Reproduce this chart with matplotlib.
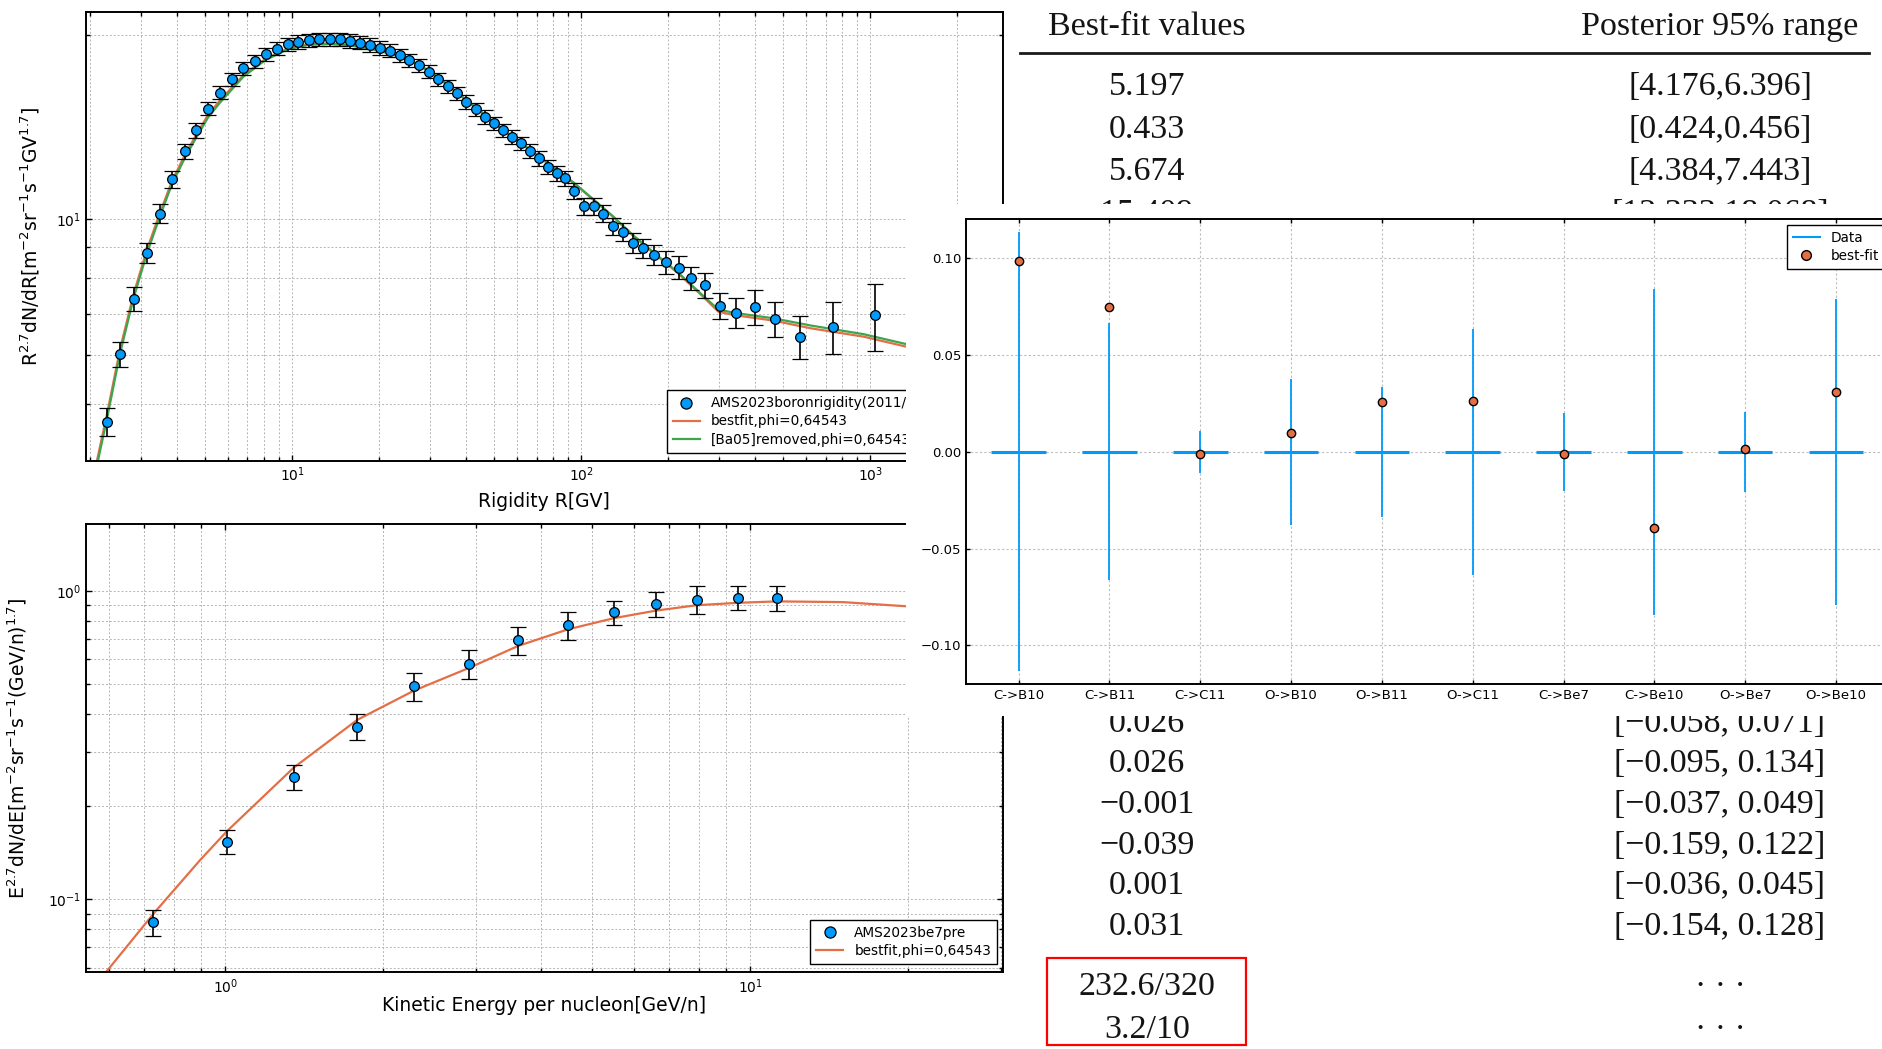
import matplotlib
matplotlib.use("Agg")
import numpy as np
import matplotlib.pyplot as plt
from matplotlib.ticker import LogLocator, NullFormatter
from matplotlib.lines import Line2D
from matplotlib.patches import Rectangle

# ---- top-left panel: AMS boron rigidity spectrum, R^2.7 dN/dR ----
boron_R = [2.29, 2.54, 2.83, 3.14, 3.48, 3.83, 4.25, 4.65, 5.11, 5.63,
           6.18, 6.78, 7.43, 8.11, 8.84, 9.65, 10.47, 11.42, 12.40, 13.46,
           14.61, 15.86, 17.13, 18.60, 20.19, 21.80, 23.54, 25.43, 27.45, 29.65,
           32.03, 34.59, 37.16, 39.94, 43.13, 46.33, 49.77, 53.48, 57.47, 61.75,
           66.35, 71.28, 76.59, 82.28, 87.95, 94.5, 102.1, 110.3, 119.1, 128.6,
           138.9, 150.7, 163.6, 178.5, 196.8, 216.9, 240.4, 267.7, 302.7, 344.1,
           397.4, 468.2, 571.7, 742.8, 1036.6]
boron_flux = [4.67, 6.02, 7.42, 8.81, 10.21, 11.62, 12.91, 13.97, 15.15, 16.08,
              16.90, 17.61, 18.10, 18.59, 18.98, 19.27, 19.46, 19.59, 19.64, 19.64,
              19.64, 19.52, 19.40, 19.23, 19.03, 18.82, 18.51, 18.17, 17.83, 17.39,
              16.92, 16.48, 16.03, 15.54, 15.10, 14.69, 14.33, 13.97, 13.62, 13.29,
              12.93, 12.56, 12.17, 11.87, 11.65, 11.11, 10.50, 10.50, 10.21, 9.74,
              9.54, 9.15, 8.96, 8.74, 8.50, 8.33, 8.00, 7.80, 7.22, 7.04,
              7.19, 6.86, 6.43, 6.67, 6.97]
boron_err = [0.25, 0.28, 0.33, 0.33, 0.36, 0.37, 0.36, 0.39, 0.38, 0.40,
             0.42, 0.44, 0.45, 0.46, 0.47, 0.48, 0.49, 0.49, 0.49, 0.49,
             0.49, 0.49, 0.48, 0.48, 0.48, 0.47, 0.46, 0.45, 0.45, 0.43,
             0.42, 0.41, 0.40, 0.39, 0.38, 0.37, 0.36, 0.35, 0.34, 0.33,
             0.35, 0.34, 0.33, 0.33, 0.33, 0.34, 0.33, 0.33, 0.32, 0.31,
             0.33, 0.33, 0.33, 0.33, 0.36, 0.36, 0.35, 0.36, 0.36, 0.40,
             0.47, 0.45, 0.52, 0.65, 0.87]
boron_fit_R = [2.11, 2.29, 2.54, 2.83, 3.14, 3.48, 3.83, 4.25, 4.65, 5.11,
               5.63, 6.78, 8.11, 9.65, 11.42, 13.46, 15.86, 18.60, 21.80, 25.43,
               29.65, 34.59, 39.94, 46.33, 53.48, 61.75, 71.28, 82.28, 94.5, 110.3,
               128.6, 150.7, 178.5, 216.7, 267.7, 297.9, 339, 461, 627, 946,
               1334, 2875]
boron_bestfit = [4.03, 4.82, 6.15, 7.56, 8.90, 10.21, 11.51, 12.72, 13.71, 14.78,
                 15.63, 17.18, 18.28, 18.98, 19.29, 19.34, 19.23, 18.98, 18.63, 18.17,
                 17.46, 16.54, 15.63, 14.78, 13.97, 13.29, 12.64, 12.02, 11.43, 10.74,
                 10.09, 9.40, 8.79, 8.15, 7.42, 7.06, 6.97, 6.83, 6.63, 6.43,
                 6.19, 5.85]
boron_ba05_removed = [3.96, 4.74, 6.05, 7.45, 8.78, 10.08, 11.38, 12.58, 13.57, 14.64,
                      15.50, 17.08, 18.20, 18.92, 19.25, 19.31, 19.21, 18.97, 18.62, 18.17,
                      17.46, 16.55, 15.64, 14.80, 13.99, 13.31, 12.66, 12.04, 11.45, 10.76,
                      10.11, 9.42, 8.81, 8.17, 7.45, 7.12, 7.03, 6.89, 6.70, 6.49,
                      6.25, 5.90]

# ---- bottom-left panel: AMS Be7, E^2.7 dN/dE ----
be7_E = [0.729, 1.006, 1.349, 1.785, 2.289, 2.91, 3.615, 4.495, 5.495, 6.60, 7.91, 9.48, 11.26]
be7_flux = [0.0842, 0.1538, 0.249, 0.363, 0.490, 0.581, 0.692, 0.773, 0.851, 0.907, 0.937, 0.950, 0.948]
be7_err = [0.008, 0.014, 0.023, 0.035, 0.050, 0.064, 0.072, 0.080, 0.076, 0.087, 0.096, 0.083, 0.088]
be7_fit_E = [0.592, 0.731, 0.895, 1.006, 1.349, 1.785, 2.289, 2.91, 3.615, 4.495,
             5.495, 6.60, 7.91, 9.48, 11.26, 15.0, 19.8, 30.3]
be7_bestfit = [0.058, 0.0902, 0.134, 0.166, 0.267, 0.382, 0.475, 0.562, 0.663, 0.750,
               0.815, 0.862, 0.898, 0.914, 0.924, 0.919, 0.891, 0.850]

# ---- overlay panel: cross-section nuisance parameters ----
channels = ["C->B10", "C->B11", "C->C11", "O->B10", "O->B11",
            "O->C11", "C->Be7", "C->Be10", "O->Be7", "O->Be10"]
data_center = [0.0, 0.0, 0.0, 0.0, 0.0, 0.0, 0.0, 0.0, 0.0, 0.0]
data_sigma = [0.1135, 0.0665, 0.011, 0.0377, 0.0336, 0.0635, 0.0203, 0.0843, 0.0207, 0.0791]
bestfit_vals = [0.0987, 0.0746, -0.001, 0.0097, 0.0257, 0.0262, -0.001, -0.0394, 0.0012, 0.0309]

# ---- table (background image) ----
table_header = ["Best-fit values", "Posterior 95% range"]
table_top_rows = [("5.197", "[4.176,6.396]"), ("0.433", "[0.424,0.456]"),
                  ("5.674", "[4.384,7.443]"), ("15.409", "[12.333,18.068]")]
table_bottom_rows = [("0.026", "[\u22120.058, 0.071]"), ("0.026", "[\u22120.095, 0.134]"),
                     ("\u22120.001", "[\u22120.037, 0.049]"), ("\u22120.039", "[\u22120.159, 0.122]"),
                     ("0.001", "[\u22120.036, 0.045]"), ("0.031", "[\u22120.154, 0.128]")]
chi2_rows = [("232.6/320", "\u00b7 \u00b7 \u00b7"), ("3.2/10", "\u00b7 \u00b7 \u00b7")]

BLUE, ORANGE, GREEN = "#009AFA", "#E36F47", "#3EA44E"
W, H = 1882, 1049

plt.rcParams["font.family"] = "DejaVu Sans"
plt.rcParams["mathtext.fontset"] = "dejavusans"
plt.rcParams["mathtext.default"] = "regular"


def px_box(left, top, right, bottom):
    # pixel rectangle (origin top-left) -> figure fraction
    return [left / W, 1 - bottom / H, (right - left) / W, (bottom - top) / H]


def style_axes(ax, log=True):
    if log:
        ax.set_xscale("log")
        ax.set_yscale("log")
        for a in (ax.xaxis, ax.yaxis):
            a.set_major_locator(LogLocator(base=10, numticks=20))
            a.set_minor_locator(LogLocator(base=10, subs=np.arange(2, 10), numticks=50))
            a.set_minor_formatter(NullFormatter())
        ax.grid(True, which="both", color="#b5b5b5", ls=(0, (2, 2)), lw=0.7)
    else:
        ax.grid(True, color="#bdbdbd", ls=(0, (2, 2)), lw=0.8)
    ax.tick_params(which="both", direction="in", top=True, right=True,
                   labelsize=10, width=1, colors="black")
    ax.tick_params(which="major", length=4)
    ax.tick_params(which="minor", length=3)
    for s in ax.spines.values():
        s.set_linewidth(1.4)
    ax.set_axisbelow(True)


legend_kw = dict(fontsize=9.8, fancybox=False, edgecolor="black", framealpha=1,
                 borderaxespad=0, borderpad=0.45, labelspacing=0.3, handletextpad=0.8)
point_kw = dict(fmt="o", ms=7, mfc=BLUE, mec="black", mew=0.9, ecolor="black",
                elinewidth=1.2, capsize=5.5, capthick=1.2, zorder=3)

fig = plt.figure(figsize=(W / 100, H / 100), dpi=100)

# ---------- top-left ----------
axA = fig.add_axes(px_box(85.7, 12, 1003, 461), zorder=1)
style_axes(axA)
axA.plot(boron_fit_R, boron_bestfit, color=ORANGE, lw=1.6, zorder=2)
axA.plot(boron_fit_R, boron_ba05_removed, color=GREEN, lw=1.6, zorder=2)
axA.errorbar(boron_R, boron_flux, yerr=boron_err, **point_kw)
axA.set_xlim(1.93, 2875)
axA.set_ylim(4.03, 21.77)
axA.set_xlabel("Rigidity R[GV]", fontsize=13.5)
axA.set_ylabel(r"R$^{2.7}$dN/dR[m$^{-2}$sr$^{-1}$s$^{-1}$GV$^{1.7}$]", fontsize=13.5)
axA.xaxis.set_label_coords(0.5, -0.069)
axA.yaxis.set_label_coords(-0.0476, 0.5)
handlesA = [Line2D([], [], ls="none", marker="o", ms=8, mfc=BLUE, mec="black", mew=0.9),
            Line2D([], [], color=ORANGE, lw=1.6),
            Line2D([], [], color=GREEN, lw=1.6)]
axA.legend(handlesA, ["AMS2023boronrigidity(2011/05-2019/10)", "bestfit,phi=0,64543",
                      "[Ba05]removed,phi=0,64543"],
           loc="lower left", bbox_to_anchor=(0.6334, 0.0185), **legend_kw)

# ---------- bottom-left ----------
axB = fig.add_axes(px_box(85.7, 523.75, 1003, 972.4), zorder=1)
style_axes(axB)
axB.plot(be7_fit_E, be7_bestfit, color=ORANGE, lw=1.6, zorder=2)
axB.errorbar(be7_E, be7_flux, yerr=be7_err, **point_kw)
axB.set_xlim(0.542, 30.3)
axB.set_ylim(0.058, 1.649)
axB.set_xlabel("Kinetic Energy per nucleon[GeV/n]", fontsize=13.5)
axB.set_ylabel(r"E$^{2.7}$dN/dE[m$^{-2}$sr$^{-1}$s$^{-1}$(GeV/n)$^{1.7}$]", fontsize=13.5)
axB.xaxis.set_label_coords(0.5, -0.0526)
axB.yaxis.set_label_coords(-0.0618, 0.5)
handlesB = [Line2D([], [], ls="none", marker="o", ms=8, mfc=BLUE, mec="black", mew=0.9),
            Line2D([], [], color=ORANGE, lw=1.6)]
axB.legend(handlesB, ["AMS2023be7pre", "bestfit,phi=0,64543"],
           loc="lower right", bbox_to_anchor=(0.9938, 0.0187), **legend_kw)

# ---------- table image + white card of the overlay ----------
ax_tab = fig.add_axes([0, 0, 1, 1], zorder=2)
ax_tab.set_xlim(0, W)
ax_tab.set_ylim(H, 0)
ax_tab.axis("off")
ax_tab.patch.set_visible(False)

serif = dict(family="Liberation Serif", fontsize=24.5, ha="center", va="baseline",
             color="#141414", zorder=3)
col_x = [1147, 1720]
for cx, s in zip(col_x, table_header):
    ax_tab.text(cx, 35, s, **serif)
ax_tab.plot([1020, 1869], [52.5, 52.5], color="#1a1a1a", lw=2.0, zorder=3)
for (left, right), y in zip(table_top_rows, [95, 138, 180, 222]):
    ax_tab.text(col_x[0], y, left, **serif)
    ax_tab.text(col_x[1], y, right, **serif)
for (left, right), y in zip(table_bottom_rows, [732, 772, 813, 854, 894, 935]):
    ax_tab.text(col_x[0], y, left, **serif)
    ax_tab.text(col_x[1], y, right, **serif)
for (left, right), y in zip(chi2_rows, [995, 1038]):
    ax_tab.text(col_x[0], y, left, **serif)
    ax_tab.text(col_x[1], y, right, **serif)
ax_tab.add_patch(Rectangle((1047, 958), 199, 87, fill=False, ec="red", lw=1.6, zorder=4))

# white background of the pasted errorbar plot
ax_tab.add_patch(Rectangle((906, 204), W - 906, 716 - 204, fc="white", ec="none", zorder=10))

# ---------- overlay: nuisance parameters ----------
axC = fig.add_axes(px_box(966, 219, 1895, 684), zorder=3)
style_axes(axC, log=False)
xpos = np.arange(len(channels))
axC.errorbar(xpos, data_center, xerr=0.3, fmt="none", ecolor=BLUE, elinewidth=2.2, capsize=0)
axC.errorbar(xpos, data_center, yerr=data_sigma, fmt="none", ecolor=BLUE, elinewidth=1.3, capsize=0)
axC.plot(xpos, bestfit_vals, ls="none", marker="o", ms=6, mfc=ORANGE, mec="black", mew=1, zorder=4)
axC.set_xticks(xpos, channels)
axC.set_yticks([-0.10, -0.05, 0.0, 0.05, 0.10])
axC.tick_params(labelsize=9.5, length=3)
axC.set_xlim(-0.58, 9.65)
axC.set_ylim(-0.12, 0.1203)
handlesC = [Line2D([], [], color=BLUE, lw=1.5),
            Line2D([], [], ls="none", marker="o", ms=7, mfc=ORANGE, mec="black", mew=1)]
axC.legend(handlesC, ["Data", "best-fit"], loc="upper left",
           bbox_to_anchor=(0.8834, 0.9871), **legend_kw)

fig.savefig("out.png", dpi=100)
